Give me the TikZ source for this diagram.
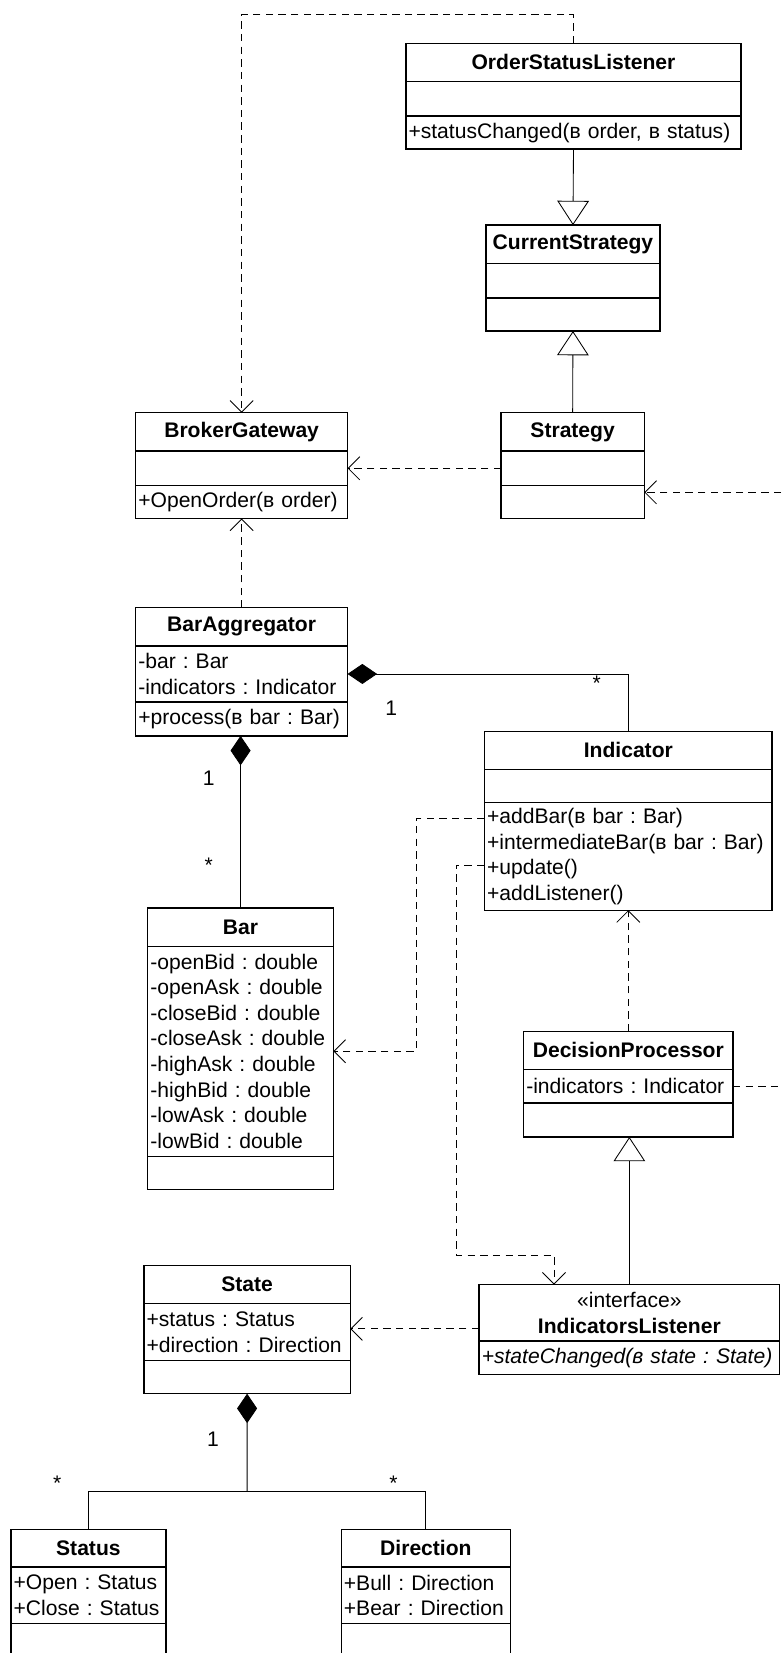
\documentclass[tikz,border=0pt]{standalone}
\usepackage{fontspec}
\setmainfont{Liberation Sans}
\usetikzlibrary{arrows.meta}
\frenchspacing

\newcommand{\clsfont}{\fontsize{20}{24.3}\selectfont}
% class box: name, corner, width, three heights, title, attributes, operations
\newcommand{\umlclass}[9]{%
  \pgfmathsetmacro{\clsw}{#3-5}%
  \node[clsbox, minimum width=#3pt, minimum height=#4pt, text width=\clsw pt, align=center, font=\clsfont\bfseries] (#1) at (#2) {#7};
  \node[clsbox, minimum width=#3pt, minimum height=#5pt, text width=\clsw pt] (#1-a) at (#1.south west) {#8};
  \node[clsbox, minimum width=#3pt, minimum height=#6pt, text width=\clsw pt] (#1-o) at (#1-a.south west) {#9};
}

\begin{document}
\begin{tikzpicture}[x=1pt, y=-1pt,
    clsbox/.style={draw, line width=1.3pt, anchor=north west, inner xsep=2.5pt, inner ysep=1pt, outer sep=0pt, align=left, font=\clsfont},
    dashline/.style={line width=0.8pt, dash pattern=on 7pt off 5pt},
    dep/.style={dashline, -{Straight Barb[length=11pt,width=22pt]}},
    gen/.style={line width=0.8pt, -{Triangle[length=23pt,width=30pt,fill=white]}},
    comp/.style={line width=0.8pt, -{Diamond[length=28pt,width=19pt]}},
    assoc/.style={line width=0.8pt},
    mult/.style={font=\clsfont, inner sep=0pt}]
    \useasboundingbox (0,0) rectangle (741,1568);
    \clip (0,0) rectangle (741,1568);

    % classes
    \umlclass{osl}{385,41}{318}{36.5}{32.5}{31.5}{OrderStatusListener}{}{+statusChanged(в order, в status)}
    \umlclass{cs}{461,213.5}{165}{36.5}{32.5}{31.5}{CurrentStrategy}{}{}
    \umlclass{bg}{128.7,391.5}{201}{36.4}{32.6}{31.3}{BrokerGateway}{}{+OpenOrder(в order)}
    \umlclass{st}{475.2,391.5}{136}{36.4}{32.6}{31.3}{Strategy}{}{}
    \umlclass{ba}{128.7,576.5}{201}{36.1}{53.4}{32}{BarAggregator}{-bar : Bar\\-indicators : Indicator}{+process(в bar : Bar)}
    \umlclass{ind}{459.6,693.6}{272.8}{36.3}{31.6}{101.9}{Indicator}{}{+addBar(в bar : Bar)\\+intermediateBar(в bar : Bar)\\+update()\\+addListener()}
    \umlclass{bar}{140.2,861.2}{176}{36.4}{199.2}{31.7}{Bar}{-openBid : double\\-openAsk : double\\-closeBid : double\\-closeAsk : double\\-highAsk : double\\-highBid : double\\-lowAsk : double\\-lowBid : double}{}
    \umlclass{dp}{496.7,978.2}{198.6}{36.3}{31.7}{32.3}{DecisionProcessor}{-indicators : Indicator}{}
    \umlclass{state}{136.6,1200.2}{195.6}{36.4}{53.8}{31.6}{State}{+status : Status\\+direction : Direction}{}
    \umlclass{status}{10.4,1450.7}{146.9}{35.7}{53.8}{40}{Status}{+Open : Status\\+Close : Status}{}
    \umlclass{dir}{323.7,1450.7}{160.6}{35.7}{53.8}{40}{Direction}{+Bull : Direction\\+Bear : Direction}{}
    \node[clsbox, minimum width=285pt, minimum height=53.5pt, text width=280pt, align=center] (il) at (454.5,1218.5) {«interface»\\\textbf{IndicatorsListener}};
    \node[clsbox, minimum width=285pt, minimum height=31.6pt, text width=280pt, font=\clsfont\itshape] (il-o) at (il.south west) {+stateChanged(в state : State)};

    % connectors
    \draw[dep] (osl.north) -- ++(0,-27) -| (bg.north);
    \draw[gen] (osl-o.south) -- (cs.north);
    \draw[gen] (st.north) -- (cs-o.south);
    \draw[dep] (st-a.west) -- (bg-a.east);
    \coordinate (edge1) at (741,467);
    \draw[dep] (edge1) -- (edge1 -| st-o.east);
    \draw[dep] (ba.north) -- (bg-o.south);
    \draw[comp] (ind.north) |- (ba-a.east);
    \draw[comp] (bar.north) -- (bar.north |- ba-o.south);
    \draw[dep] ([yshift=-15pt]ind-o.north west) -- ++(-65,0) |- (bar-a.east);
    \coordinate (ilin) at ([xshift=71pt]il.north west);
    \draw[dep] ([yshift=-59pt]ind-o.north west) -- ++(-27,0) |- ([yshift=28pt]ilin) -- (ilin);
    \draw[dep] (dp.north) -- (ind-o.south);
    \draw[dashline] (dp-a.east) -- (dp-a.east -| edge1);
    \draw[gen] (il.north) -- (il.north |- dp-o.south);
    \coordinate (ilout) at ([yshift=-42pt]il.north west);
    \draw[dep] (ilout) -- (ilout -| state-a.east);
    \coordinate (fork) at (234.4,1414.6);
    \draw[assoc] (status.north) |- (fork) -| (dir.north);
    \draw[comp] (fork) -- (state-o.south);

    % multiplicities
    \node[mult] (m-ind) at (566,648) {*};
    \node[mult] (m-ba) at (371,672) {1};
    \node[mult] (m-bag) at (198,738.5) {1};
    \node[mult] (m-bar) at (198,821) {*};
    \node[mult] (m-state) at (202,1365.6) {1};
    \node[mult] (m-status) at (54.3,1406.6) {*};
    \node[mult] (m-dir) at (373.3,1406.6) {*};
\end{tikzpicture}
\end{document}
